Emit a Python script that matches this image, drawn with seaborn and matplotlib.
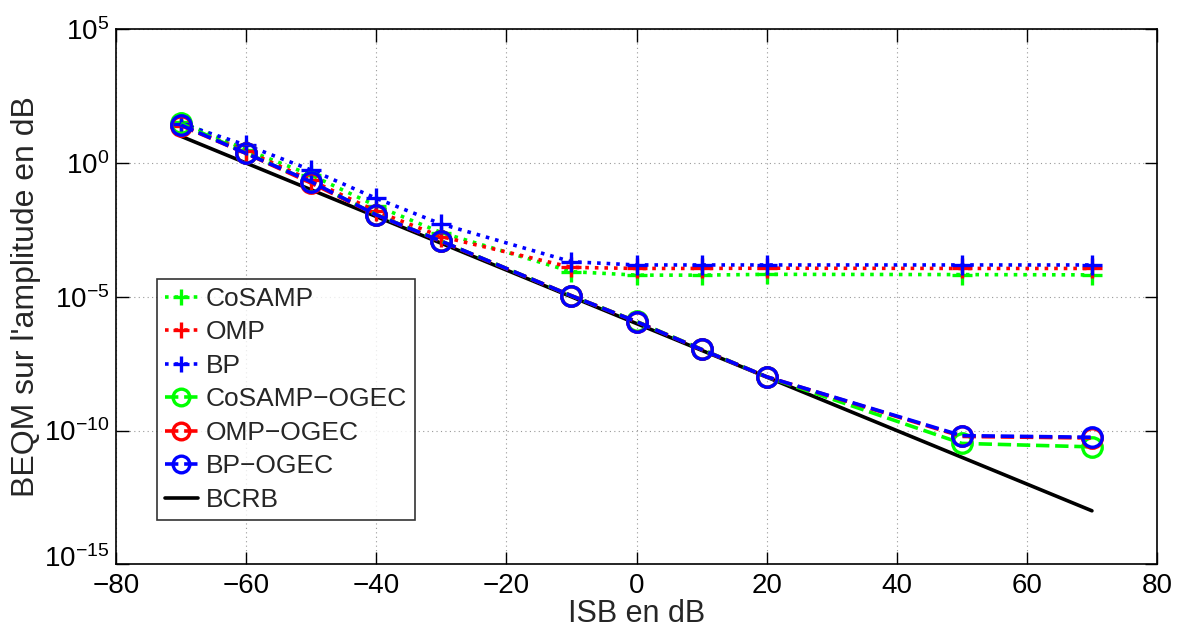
import numpy as np
import pandas as pd
import matplotlib
matplotlib.use("Agg")
import matplotlib.pyplot as plt
import matplotlib.transforms as mtransforms
import seaborn as sns
from matplotlib.ticker import FixedLocator, NullLocator, LogFormatterSciNotation

# ---- data (log10 of values) ----
isb = [-70, -60, -50, -40, -30, -10, 0, 10, 20, 50, 70]

cosamp_log = [1.55, 0.50, -0.45, -1.60, -2.60, -4.06, -4.19, -4.19, -4.16, -4.17, -4.18]
omp_log = [1.40, 0.45, -0.65, -1.80, -2.75, -3.90, -3.94, -3.94, -3.93, -3.94, -3.94]
bp_log = [1.47, 0.67, -0.26, -1.32, -2.28, -3.69, -3.81, -3.81, -3.81, -3.81, -3.81]
cosamp_ogec_log = [1.48, 0.38, -0.72, -1.93, -2.92, -4.96, -5.92, -6.96, -7.99, -10.48, -10.61]
omp_ogec_log = [1.40, 0.36, -0.75, -1.94, -2.93, -4.96, -5.93, -6.97, -7.99, -10.22, -10.28]
bp_ogec_log = [1.42, 0.36, -0.70, -1.94, -2.92, -4.96, -5.93, -6.97, -7.99, -10.19, -10.25]
bcrb_log = [1.0, 0.0, -1.0, -2.0, -3.0, -5.0, -6.0, -7.0, -8.0, -11.0, -13.0]

labels = ["CoSAMP", "OMP", "BP", "CoSAMP\u2212OGEC", "OMP\u2212OGEC", "BP\u2212OGEC", "BCRB"]
series = [cosamp_log, omp_log, bp_log, cosamp_ogec_log, omp_ogec_log, bp_ogec_log, bcrb_log]
colors = ["#00ff00", "#ff0000", "#0000ff", "#00ff00", "#ff0000", "#0000ff", "#000000"]
styles = [":", ":", ":", "--", "--", "--", "-"]
markers = ["+", "+", "+", "o", "o", "o", None]

xticks = [-80, -60, -40, -20, 0, 20, 40, 60, 80]
yticks = [1e-15, 1e-10, 1e-5, 1e0, 1e5]

rows = []
for lab, vals in zip(labels, series):
    for x, v in zip(isb, vals):
        rows.append({"ISB": x, "BEQM": 10.0 ** v, "serie": lab})
df = pd.DataFrame(rows)

sns.set_theme(style="white")
plt.rcParams["font.family"] = ["Liberation Sans", "DejaVu Sans"]
plt.rcParams["mathtext.fontset"] = "custom"
plt.rcParams["mathtext.rm"] = "Liberation Sans"
plt.rcParams["mathtext.it"] = "Liberation Sans:italic"
plt.rcParams["axes.unicode_minus"] = True

fig = plt.figure(figsize=(11.79, 6.28), dpi=100)
ax = fig.add_axes([116 / 1179, (628 - 564.3) / 628, (1157 - 116) / 1179, (564.3 - 29.3) / 628])

for i, lab in enumerate(labels):
    sub = df[df["serie"] == lab]
    z = 2 if lab == "BCRB" else 3
    kw = dict(marker=markers[i], markersize=14, markeredgewidth=2.4,
              markerfacecolor="none", markeredgecolor=colors[i]) if markers[i] else {}
    sns.lineplot(data=sub, x="ISB", y="BEQM", ax=ax, color=colors[i], linestyle=styles[i],
                 linewidth=2.6, label=lab, zorder=z, **kw)

ax.set_yscale("log")
ax.set_xlim(-80, 80)
ax.set_ylim(1e-15, 1e5)
ax.xaxis.set_major_locator(FixedLocator(xticks))
ax.yaxis.set_major_locator(FixedLocator(yticks))
ax.yaxis.set_minor_locator(NullLocator())
ax.yaxis.set_major_formatter(LogFormatterSciNotation())
ax.grid(True, which="major", linestyle=(0, (1, 3)), color="#999999", linewidth=0.8)
ax.tick_params(direction="in", length=9, width=1, labelsize=20, top=True, right=True,
               bottom=True, left=True, colors="black")
ax.tick_params(axis="x", pad=6)
ax.tick_params(axis="y", pad=5)
for s in ax.spines.values():
    s.set_color("black")
    s.set_linewidth(1.2)

ax.set_xlabel("ISB en dB", fontsize=22, labelpad=0)
ax.set_ylabel("BEQM sur l'amplitude en dB", fontsize=23, labelpad=2)

leg = ax.legend(loc="lower left", bbox_to_anchor=(0.039, 0.083), borderaxespad=0,
                fontsize=19, handlelength=1.25, handletextpad=0.3, labelspacing=0.36,
                borderpad=0.3, frameon=True, fancybox=False, edgecolor="black")
leg.get_frame().set_linewidth(1.2)
for h in leg.legend_handles:
    h.set_markersize(12)

# nudge the lowest y tick label up a little so it does not collide with "-80"
fig.canvas.draw()
lowest = ax.yaxis.get_major_ticks()[0].label1
lowest.set_transform(lowest.get_transform() +
                     mtransforms.ScaledTranslation(0, 6 / 72, fig.dpi_scale_trans))

fig.savefig("out.png", dpi=100)
